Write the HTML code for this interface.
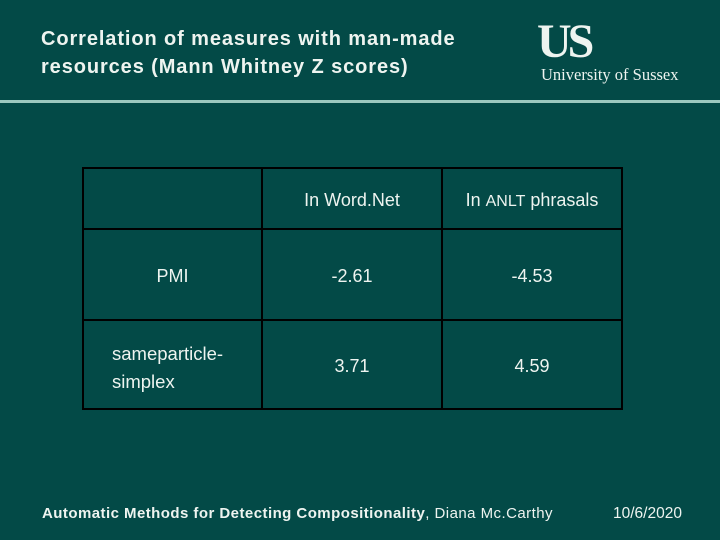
<!DOCTYPE html>
<html><head><meta charset="utf-8"><style>
body{margin:0;width:720px;height:540px;background:#034a47;position:relative;overflow:hidden;font-family:"Liberation Sans",sans-serif;color:#eef4f0}
.a{position:absolute;white-space:nowrap}
.v{position:absolute;background:#000}
.c{position:absolute;font-size:18px;text-align:center}
</style></head><body>
<div class="a" style="left:41px;top:25px;font-size:20px;font-weight:bold;line-height:28px;letter-spacing:0.9px">Correlation of measures with man-made<br>resources (Mann Whitney Z scores)</div>
<div class="a" style="left:537px;top:16px;font-family:'Liberation Serif',serif;font-size:48px;line-height:52px;letter-spacing:-4px;font-weight:bold">US</div>
<div class="a" style="left:541px;top:65px;font-family:'Liberation Serif',serif;font-size:16.5px">University of Sussex</div>
<div class="a" style="left:0;top:100px;width:720px;height:3px;background:#9cc8bf"></div>
<div>
<div class="v" style="left:82px;top:167px;width:541px;height:2px"></div>
<div class="v" style="left:82px;top:228px;width:541px;height:2px"></div>
<div class="v" style="left:82px;top:319px;width:541px;height:2px"></div>
<div class="v" style="left:82px;top:408px;width:541px;height:2px"></div>
<div class="v" style="left:82px;top:167px;width:2px;height:243px"></div>
<div class="v" style="left:261px;top:167px;width:2px;height:243px"></div>
<div class="v" style="left:441px;top:167px;width:2px;height:243px"></div>
<div class="v" style="left:621px;top:167px;width:2px;height:243px"></div>
<div class="c" style="left:263px;width:178px;top:190px">In Word.Net</div>
<div class="c" style="left:443px;width:178px;top:190px">In <span style="font-size:16px">ANLT</span> phrasals</div>
<div class="c" style="left:84px;width:177px;top:266px">PMI</div>
<div class="c" style="left:263px;width:178px;top:266px">-2.61</div>
<div class="c" style="left:443px;width:178px;top:266px">-4.53</div>
<div class="a" style="left:112px;top:340px;font-size:18.5px;line-height:28px">sameparticle-<br>simplex</div>
<div class="c" style="left:263px;width:178px;top:356px">3.71</div>
<div class="c" style="left:443px;width:178px;top:356px">4.59</div>
</div>
<div class="a" style="left:42px;top:505px;font-size:15px;letter-spacing:0.45px"><b>Automatic Methods for Detecting Compositionality</b>, Diana Mc.Carthy</div>
<div class="a" style="left:613px;top:505px;font-size:15.5px">10/6/2020</div>
</body></html>
